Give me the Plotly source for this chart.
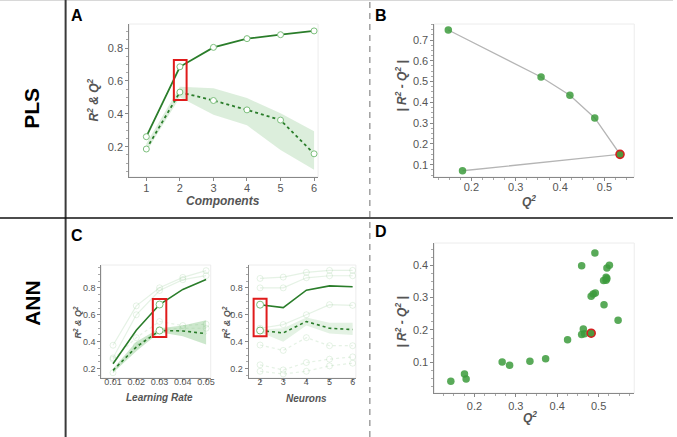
import plotly.graph_objects as go

W, H = 677, 437

# ---------------- Data ----------------
# Panel A (PLS components)
comp = [1, 2, 3, 4, 5, 6]
pls_r2 = [0.261, 0.686, 0.804, 0.857, 0.881, 0.904]
pls_q2 = [0.186, 0.532, 0.481, 0.424, 0.362, 0.157]
pls_q2_hi = [0.22, 0.565, 0.556, 0.496, 0.403, 0.294]
pls_q2_lo = [0.17, 0.50, 0.394, 0.33, 0.18, 0.06]

# Panel B (PLS: Q2 vs |R2-Q2|)
b_q2 = [0.180, 0.535, 0.478, 0.422, 0.357, 0.148]
b_diff = [0.071, 0.150, 0.325, 0.434, 0.522, 0.748]
b_best = 1

# Panel C (ANN learning rate)
lr = [0.01, 0.02, 0.03, 0.04, 0.05]
lr_r2 = [0.237, 0.485, 0.676, 0.788, 0.862]
lr_q2 = [0.188, 0.361, 0.483, 0.480, 0.460]
lr_q2_hi = [0.20, 0.40, 0.50, 0.52, 0.56]
lr_q2_lo = [0.17, 0.33, 0.47, 0.44, 0.38]
lr_faint = [
    [0.374, 0.666, 0.800, 0.877, 0.927],
    [0.280, 0.600, 0.780, 0.860, 0.890],
    [0.270, 0.430, 0.550, 0.520, 0.530],
    [0.170, 0.370, 0.490, 0.500, 0.500],
]
lr_faint_dash = ["solid", "solid", "dot", "dot"]

# Panel C' (ANN neurons)
neurons = [2, 3, 4, 5, 6]
nn_r2 = [0.675, 0.653, 0.783, 0.815, 0.808]
nn_q2 = [0.483, 0.465, 0.550, 0.500, 0.490]
nn_q2_hi = [0.49, 0.50, 0.58, 0.54, 0.54]
nn_q2_lo = [0.47, 0.40, 0.52, 0.46, 0.45]
nn_faint = [
    [0.870, 0.880, 0.915, 0.930, 0.930],
    [0.800, 0.800, 0.875, 0.890, 0.890],
    [0.500, 0.527, 0.600, 0.675, 0.670],
    [0.375, 0.335, 0.430, 0.370, 0.370],
    [0.228, 0.190, 0.245, 0.270, 0.287],
    [0.180, 0.160, 0.180, 0.220, 0.240],
]
nn_faint_dash = ["solid", "solid", "solid", "dot", "dot", "dot"]

# Panel D (ANN: Q2 vs |R2-Q2|)
d_q2 = [0.143, 0.176, 0.180, 0.267, 0.285, 0.334, 0.372, 0.425, 0.459, 0.463,
        0.466, 0.459, 0.491, 0.482, 0.487, 0.492, 0.512, 0.518, 0.520, 0.520,
        0.526, 0.513, 0.547, 0.518]
d_diff = [0.041, 0.064, 0.048, 0.101, 0.091, 0.103, 0.111, 0.170, 0.186, 0.203,
          0.188, 0.399, 0.438, 0.304, 0.311, 0.314, 0.353, 0.363, 0.359, 0.392,
          0.400, 0.278, 0.230, 0.354]
d_best_q2 = [0.482]
d_best_diff = [0.190]

# ---------------- Styles ----------------
FONT = "Liberation Sans, Arial, sans-serif"
DARK = "#2a7d2a"
MARK = "#7cbf7c"
BAND = "rgba(130,195,130,0.28)"
FAINT = "rgba(150,205,150,0.25)"
PT = "rgba(60,155,60,0.85)"


def px(x):
    return x / W


def py(y):
    return 1 - y / H


fig = go.Figure()

# ---- Panel A ----
fig.add_trace(go.Scatter(x=comp, y=pls_q2_hi, mode="lines", line=dict(width=0),
                         xaxis="x", yaxis="y", showlegend=False, hoverinfo="skip"))
fig.add_trace(go.Scatter(x=comp, y=pls_q2_lo, mode="lines", line=dict(width=0),
                         fill="tonexty", fillcolor=BAND,
                         xaxis="x", yaxis="y", showlegend=False, hoverinfo="skip"))
fig.add_trace(go.Scatter(x=comp, y=pls_r2, mode="lines+markers",
                         line=dict(color=DARK, width=1.8),
                         marker=dict(symbol="circle", size=6, color="white",
                                     line=dict(color=MARK, width=1)),
                         xaxis="x", yaxis="y", showlegend=False))
fig.add_trace(go.Scatter(x=comp, y=pls_q2, mode="lines+markers",
                         line=dict(color=DARK, width=1.8, dash="dot"),
                         marker=dict(symbol="circle", size=6, color="white",
                                     line=dict(color=MARK, width=1)),
                         xaxis="x", yaxis="y", showlegend=False))

# ---- Panel B ----
fig.add_trace(go.Scatter(x=b_q2, y=b_diff, mode="lines+markers",
                         line=dict(color="#b5b5b5", width=1.3),
                         marker=dict(size=7.5, color=PT),
                         xaxis="x2", yaxis="y2", showlegend=False))
fig.add_trace(go.Scatter(x=[b_q2[b_best]], y=[b_diff[b_best]], mode="markers",
                         marker=dict(size=8, color="rgb(80,150,60)",
                                     line=dict(color="#d42020", width=1.6)),
                         xaxis="x2", yaxis="y2", showlegend=False))

# ---- Panel C (learning rate) ----
for vals, dsh in zip(lr_faint, lr_faint_dash):
    fig.add_trace(go.Scatter(x=lr, y=vals, mode="lines+markers",
                             line=dict(color=FAINT, width=1.2, dash=dsh),
                             marker=dict(size=6, color="rgba(255,255,255,0)",
                                         line=dict(color=FAINT, width=1)),
                             xaxis="x3", yaxis="y3", showlegend=False))
fig.add_trace(go.Scatter(x=lr, y=lr_q2_hi, mode="lines", line=dict(width=0),
                         xaxis="x3", yaxis="y3", showlegend=False, hoverinfo="skip"))
fig.add_trace(go.Scatter(x=lr, y=lr_q2_lo, mode="lines", line=dict(width=0),
                         fill="tonexty", fillcolor="rgba(110,185,110,0.35)",
                         xaxis="x3", yaxis="y3", showlegend=False, hoverinfo="skip"))
fig.add_trace(go.Scatter(x=lr, y=lr_r2, mode="lines",
                         line=dict(color=DARK, width=1.6),
                         xaxis="x3", yaxis="y3", showlegend=False))
fig.add_trace(go.Scatter(x=lr, y=lr_q2, mode="lines",
                         line=dict(color=DARK, width=1.6, dash="dot"),
                         xaxis="x3", yaxis="y3", showlegend=False))
fig.add_trace(go.Scatter(x=[lr[2], lr[2]], y=[lr_r2[2], lr_q2[2]], mode="markers",
                         marker=dict(size=7, color="white",
                                     line=dict(color=MARK, width=1)),
                         xaxis="x3", yaxis="y3", showlegend=False))

# ---- Panel C' (neurons) ----
for vals, dsh in zip(nn_faint, nn_faint_dash):
    fig.add_trace(go.Scatter(x=neurons, y=vals, mode="lines+markers",
                             line=dict(color=FAINT, width=1.2, dash=dsh),
                             marker=dict(size=6, color="rgba(255,255,255,0)",
                                         line=dict(color=FAINT, width=1)),
                             xaxis="x4", yaxis="y4", showlegend=False))
fig.add_trace(go.Scatter(x=neurons, y=nn_q2_hi, mode="lines", line=dict(width=0),
                         xaxis="x4", yaxis="y4", showlegend=False, hoverinfo="skip"))
fig.add_trace(go.Scatter(x=neurons, y=nn_q2_lo, mode="lines", line=dict(width=0),
                         fill="tonexty", fillcolor="rgba(130,195,130,0.22)",
                         xaxis="x4", yaxis="y4", showlegend=False, hoverinfo="skip"))
fig.add_trace(go.Scatter(x=neurons, y=nn_r2, mode="lines",
                         line=dict(color=DARK, width=1.6),
                         xaxis="x4", yaxis="y4", showlegend=False))
fig.add_trace(go.Scatter(x=neurons, y=nn_q2, mode="lines",
                         line=dict(color=DARK, width=1.6, dash="dot"),
                         xaxis="x4", yaxis="y4", showlegend=False))
fig.add_trace(go.Scatter(x=[neurons[0], neurons[0]], y=[nn_r2[0], nn_q2[0]], mode="markers",
                         marker=dict(size=7, color="white",
                                     line=dict(color=MARK, width=1)),
                         xaxis="x4", yaxis="y4", showlegend=False))

# ---- Panel D ----
fig.add_trace(go.Scatter(x=d_q2, y=d_diff, mode="markers",
                         marker=dict(size=7.5, color=PT),
                         xaxis="x5", yaxis="y5", showlegend=False))
fig.add_trace(go.Scatter(x=d_best_q2, y=d_best_diff, mode="markers",
                         marker=dict(size=8, color="rgb(80,150,60)",
                                     line=dict(color="#d42020", width=1.6)),
                         xaxis="x5", yaxis="y5", showlegend=False))

# ---------------- Axes ----------------
def ax(domain, rng, tickvals, ticktext=None, size=11, anchor=None, minor=None, standoff=0):
    d = dict(domain=domain, range=rng, tickvals=tickvals, showline=True,
             linecolor="#888", linewidth=1, ticks="outside", ticklen=3,
             tickcolor="#888", showgrid=False, zeroline=False,
             tickfont=dict(family=FONT, size=size, color="#555"), anchor=anchor,
             ticklabelstandoff=standoff)
    if ticktext is not None:
        d["ticktext"] = ticktext
    if minor is not None:
        d["minor"] = dict(dtick=minor, ticks="outside", ticklen=2, tickcolor="#aaa")
        d["tickmode"] = "array"
    return d

boxes = {
    "A": (130, 320, 24, 177),
    "B": (437, 638, 24, 177),
    "C": (102, 212, 265, 378),
    "N": (250, 358, 265, 378),
    "D": (437, 638, 243, 393),
}

def xd(b):
    return [px(b[0]), px(b[1])]

def yd(b):
    return [py(b[3]), py(b[2])]

layout_axes = dict(
    xaxis=ax(xd(boxes["A"]), [0.49, 6.12], comp, anchor="y", standoff=-2),
    yaxis=ax(yd(boxes["A"]), [0.016, 0.946], [0.2, 0.4, 0.6, 0.8],
             ["0.2", "0.4", "0.6", "0.8"], anchor="x", minor=0.05),
    xaxis2=ax(xd(boxes["B"]), [0.1167, 0.567], [0.2, 0.3, 0.4, 0.5],
              ["0.2", "0.3", "0.4", "0.5"], anchor="y2", minor=0.025, standoff=-3),
    yaxis2=ax(yd(boxes["B"]), [0.041, 0.777], [0.1, 0.2, 0.3, 0.4, 0.5, 0.6, 0.7],
              ["0.1", "0.2", "0.3", "0.4", "0.5", "0.6", "0.7"], anchor="x2", minor=0.025),
    xaxis3=ax(xd(boxes["C"]), [0.005, 0.052], lr, ["0.01", "0.02", "0.03", "0.04", "0.05"],
              size=9, anchor="y3", standoff=-8),
    yaxis3=ax(yd(boxes["C"]), [0.131, 0.969], [0.2, 0.4, 0.6, 0.8],
              ["0.2", "0.4", "0.6", "0.8"], size=9, anchor="x3", minor=0.05),
    xaxis4=ax(xd(boxes["N"]), [1.5, 6.14], neurons, size=9, anchor="y4", standoff=-8),
    yaxis4=ax(yd(boxes["N"]), [0.13, 0.97], [0.2, 0.4, 0.6, 0.8],
              ["0.2", "0.4", "0.6", "0.8"], size=9, anchor="x4", minor=0.05),
    xaxis5=ax(xd(boxes["D"]), [0.1034, 0.586], [0.2, 0.3, 0.4, 0.5],
              ["0.2", "0.3", "0.4", "0.5"], anchor="y5", minor=0.025),
    yaxis5=ax(yd(boxes["D"]), [0.005, 0.469], [0.1, 0.2, 0.3, 0.4],
              ["0.1", "0.2", "0.3", "0.4"], anchor="x5", minor=0.025),
)

# ---------------- Shapes ----------------
shapes = []
for b in boxes.values():
    shapes.append(dict(type="rect", xref="paper", yref="paper", layer="below",
                       x0=px(b[0]), x1=px(b[1]), y0=py(b[3]), y1=py(b[2]),
                       line=dict(color="#ececec", width=1)))
shapes.append(dict(type="line", xref="paper", yref="paper", x0=0, x1=1,
                   y0=py(0.5), y1=py(0.5), line=dict(color="#d8d8d8", width=1)))
shapes.append(dict(type="line", xref="paper", yref="paper", x0=px(66), x1=px(66),
                   y0=0, y1=1, line=dict(color="#3a3a3a", width=2)))
shapes.append(dict(type="line", xref="paper", yref="paper", x0=0, x1=1,
                   y0=py(218), y1=py(218), line=dict(color="#111", width=1.6)))
shapes.append(dict(type="line", xref="paper", yref="paper", x0=px(372), x1=px(372),
                   y0=0, y1=1, line=dict(color="#a0a0a0", width=1.5, dash="6px,5px")))
shapes.append(dict(type="rect", xref="x", yref="y", x0=1.82, x1=2.20, y0=0.484, y1=0.727,
                   line=dict(color="#e01b1b", width=2)))
shapes.append(dict(type="rect", xref="x3", yref="y3", x0=0.0271, x1=0.0329, y0=0.435, y1=0.716,
                   line=dict(color="#e01b1b", width=2)))
shapes.append(dict(type="rect", xref="x4", yref="y4", x0=1.72, x1=2.28, y0=0.44, y1=0.72,
                   line=dict(color="#e01b1b", width=2)))

# ---------------- Annotations ----------------
ann = []

def text(x, y, s, size, color="#000", angle=0, bold=False, italic=False):
    t = s
    if italic:
        t = "<i>" + t + "</i>"
    if bold:
        t = "<b>" + t + "</b>"
    ann.append(dict(x=px(x), y=py(y), xref="paper", yref="paper", text=t,
                    showarrow=False, textangle=angle, xanchor="center", yanchor="middle",
                    font=dict(family=FONT, size=size, color=color)))

text(32, 108, "PLS", 21, bold=True, angle=-90)
text(32, 303, "ANN", 21, bold=True, angle=-90)
text(77, 15, "A", 16, bold=True)
text(383, 15, "B", 16, bold=True)
text(77, 235, "C", 16, bold=True)
text(383, 232, "D", 16, bold=True)

R2Q2 = "R<sup>2</sup> &amp; Q<sup>2</sup>"
DIFF = "| R<sup>2</sup> - Q<sup>2</sup> |"
Q2 = "Q<sup>2</sup>"
GR = "#555"
text(224, 201, "Components", 12, GR, bold=True, italic=True)
text(94, 100, R2Q2, 12, GR, angle=-90, bold=True, italic=True)
text(532, 201, Q2, 12, GR, bold=True, italic=True)
text(403, 86, DIFF, 12, GR, angle=-90, bold=True, italic=True)
text(160, 397, "Learning Rate", 10, GR, bold=True, italic=True)
text(78, 322, R2Q2, 9, GR, angle=-90, bold=True, italic=True)
text(308, 398, "Neurons", 10, GR, bold=True, italic=True)
text(228, 322, R2Q2, 9, GR, angle=-90, bold=True, italic=True)
text(533, 417, Q2, 12, GR, bold=True, italic=True)
text(403, 322, DIFF, 12, GR, angle=-90, bold=True, italic=True)

fig.update_layout(
    width=W, height=H, margin=dict(l=0, r=0, t=0, b=0),
    paper_bgcolor="white", plot_bgcolor="rgba(0,0,0,0)",
    showlegend=False, shapes=shapes, annotations=ann,
    font=dict(family=FONT),
    **layout_axes,
)

fig.write_html("out.html", config={"displayModeBar": False},
               post_script="document.body.style.margin='0px';document.body.style.overflow='hidden';")
